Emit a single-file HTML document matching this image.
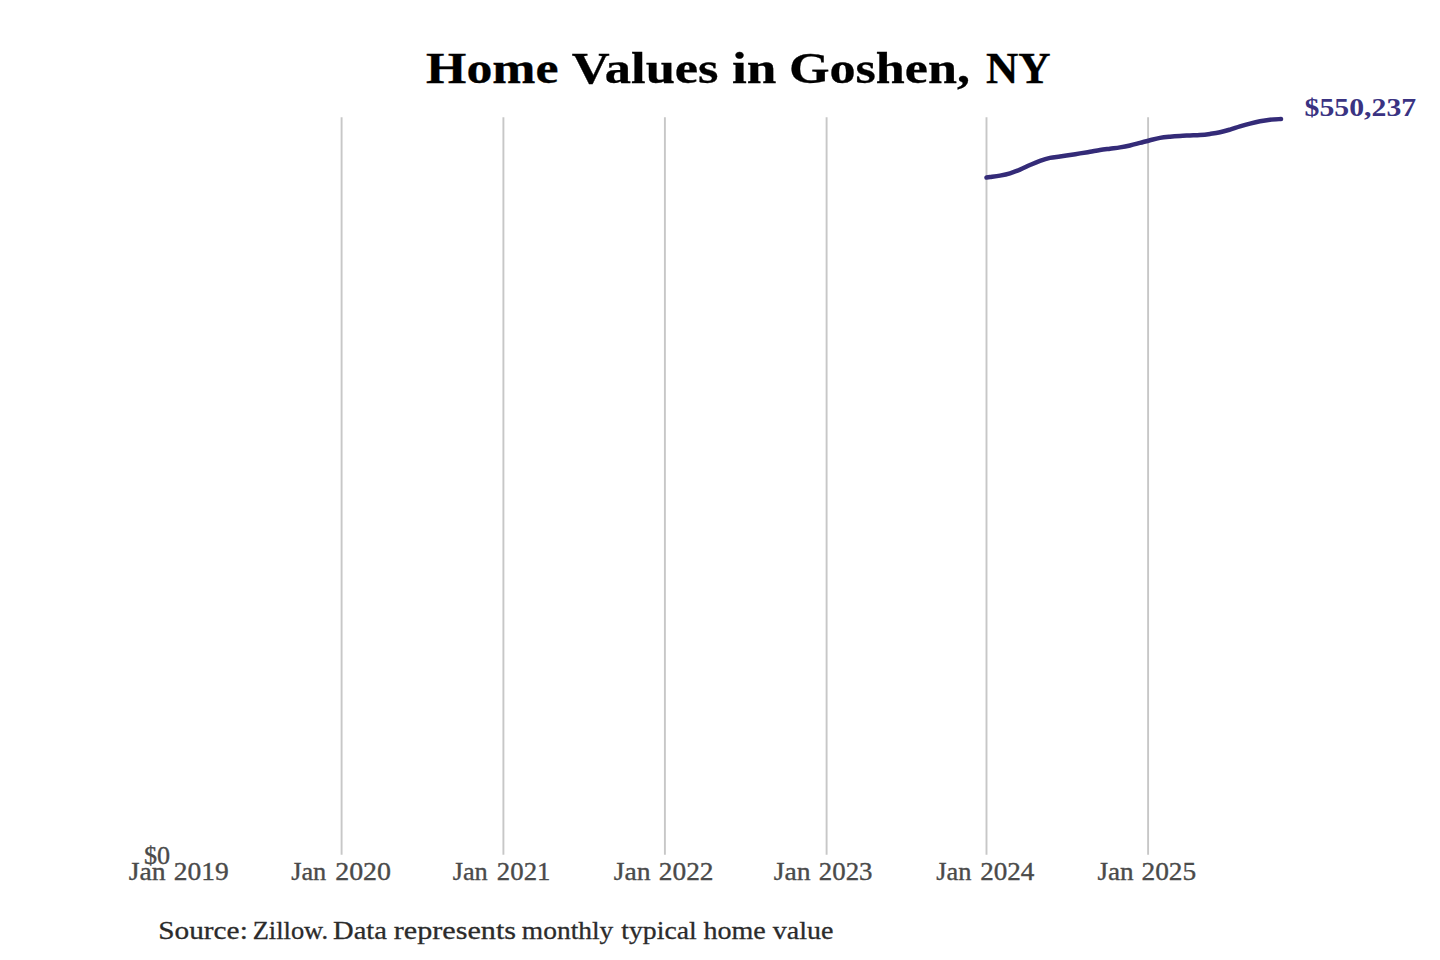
<!DOCTYPE html>
<html>
<head>
<meta charset="utf-8">
<style>
html,body{margin:0;padding:0;background:#fff;width:1440px;height:960px;overflow:hidden;}
svg{display:block;}
text{font-family:"Liberation Serif",serif;}
</style>
</head>
<body>
<svg width="1440" height="960" viewBox="0 0 1440 960">
<rect x="0" y="0" width="1440" height="960" fill="#fff"/>
<g stroke="#c7c7c7" stroke-width="1.9"><line x1="341.6" y1="117.3" x2="341.6" y2="854.8"/><line x1="503.4" y1="117.3" x2="503.4" y2="854.8"/><line x1="664.9" y1="117.3" x2="664.9" y2="854.8"/><line x1="826.6" y1="117.3" x2="826.6" y2="854.8"/><line x1="986.5" y1="117.3" x2="986.5" y2="854.8"/><line x1="1148.1" y1="117.3" x2="1148.1" y2="854.8"/></g>
<path fill="none" stroke="#342b78" stroke-width="4.5" stroke-linecap="round" stroke-linejoin="round" d="M986.50 177.60 C987.08 177.52 987.75 177.43 990.00 177.10 C992.25 176.77 996.67 176.23 1000.00 175.60 C1003.33 174.97 1006.67 174.30 1010.00 173.30 C1013.33 172.30 1016.67 170.98 1020.00 169.60 C1023.33 168.22 1026.67 166.46 1030.00 165.00 C1033.33 163.54 1036.67 162.03 1040.00 160.85 C1043.33 159.67 1046.67 158.62 1050.00 157.90 C1053.33 157.18 1056.67 156.98 1060.00 156.50 C1063.33 156.02 1066.67 155.52 1070.00 155.00 C1073.33 154.48 1076.67 153.93 1080.00 153.40 C1083.33 152.87 1086.67 152.36 1090.00 151.80 C1093.33 151.24 1096.67 150.57 1100.00 150.05 C1103.33 149.53 1106.67 149.14 1110.00 148.70 C1113.33 148.26 1116.67 147.93 1120.00 147.40 C1123.33 146.87 1126.67 146.25 1130.00 145.50 C1133.33 144.75 1136.67 143.78 1140.00 142.90 C1143.33 142.02 1146.67 141.04 1150.00 140.20 C1153.33 139.36 1156.67 138.44 1160.00 137.85 C1163.33 137.26 1166.67 136.97 1170.00 136.65 C1173.33 136.33 1176.67 136.10 1180.00 135.90 C1183.33 135.70 1186.67 135.60 1190.00 135.45 C1193.33 135.30 1196.67 135.26 1200.00 135.00 C1203.33 134.74 1206.67 134.35 1210.00 133.90 C1213.33 133.45 1216.67 133.02 1220.00 132.30 C1223.33 131.58 1226.67 130.58 1230.00 129.60 C1233.33 128.62 1236.67 127.40 1240.00 126.40 C1243.33 125.40 1246.67 124.45 1250.00 123.60 C1253.33 122.75 1256.67 121.93 1260.00 121.30 C1263.33 120.67 1266.50 120.18 1270.00 119.80 C1273.50 119.42 1279.17 119.13 1281.00 119.00"/>
<text id="t0" x="426.08" y="83.10" font-size="44.3" font-weight="bold" fill="#000" stroke="#000" stroke-width="0.3" textLength="132.43" lengthAdjust="spacingAndGlyphs">Home</text>
<text id="t1" x="571.79" y="83.10" font-size="44.3" font-weight="bold" fill="#000" stroke="#000" stroke-width="0.3" textLength="146.74" lengthAdjust="spacingAndGlyphs">Values</text>
<text id="t2" x="731.96" y="83.10" font-size="44.3" font-weight="bold" fill="#000" stroke="#000" stroke-width="0.3" textLength="44.38" lengthAdjust="spacingAndGlyphs">in</text>
<text id="t3" x="788.97" y="83.10" font-size="44.3" font-weight="bold" fill="#000" stroke="#000" stroke-width="0.3" textLength="181.07" lengthAdjust="spacingAndGlyphs">Goshen,</text>
<text id="t4" x="985.98" y="83.10" font-size="44.3" font-weight="bold" fill="#000" stroke="#000" stroke-width="0.3" textLength="64.63" lengthAdjust="spacingAndGlyphs">NY</text>
<text id="t5" x="1304.58" y="116.30" font-size="25.5" font-weight="bold" fill="#3a3382" textLength="111.63" lengthAdjust="spacingAndGlyphs">$550,237</text>
<text id="t6" x="143.95" y="863.75" font-size="25.8" font-weight="normal" fill="#4a4a4a" stroke="#4a4a4a" stroke-width="0.35" textLength="26.13" lengthAdjust="spacingAndGlyphs">$0</text>
<text id="t7" x="128.76" y="879.70" font-size="25.8" font-weight="normal" fill="#4a4a4a" stroke="#4a4a4a" stroke-width="0.35" textLength="36.87" lengthAdjust="spacingAndGlyphs">Jan</text>
<text id="t8" x="173.77" y="879.70" font-size="25.8" font-weight="normal" fill="#4a4a4a" stroke="#4a4a4a" stroke-width="0.35" textLength="55.01" lengthAdjust="spacingAndGlyphs">2019</text>
<text id="t9" x="291.17" y="879.70" font-size="25.8" font-weight="normal" fill="#4a4a4a" stroke="#4a4a4a" stroke-width="0.35" textLength="35.11" lengthAdjust="spacingAndGlyphs">Jan</text>
<text id="t10" x="335.16" y="879.70" font-size="25.8" font-weight="normal" fill="#4a4a4a" stroke="#4a4a4a" stroke-width="0.35" textLength="55.90" lengthAdjust="spacingAndGlyphs">2020</text>
<text id="t11" x="452.67" y="879.70" font-size="25.8" font-weight="normal" fill="#4a4a4a" stroke="#4a4a4a" stroke-width="0.35" textLength="35.05" lengthAdjust="spacingAndGlyphs">Jan</text>
<text id="t12" x="496.87" y="879.70" font-size="25.8" font-weight="normal" fill="#4a4a4a" stroke="#4a4a4a" stroke-width="0.35" textLength="53.59" lengthAdjust="spacingAndGlyphs">2021</text>
<text id="t13" x="613.76" y="879.70" font-size="25.8" font-weight="normal" fill="#4a4a4a" stroke="#4a4a4a" stroke-width="0.35" textLength="36.87" lengthAdjust="spacingAndGlyphs">Jan</text>
<text id="t14" x="658.78" y="879.70" font-size="25.8" font-weight="normal" fill="#4a4a4a" stroke="#4a4a4a" stroke-width="0.35" textLength="54.79" lengthAdjust="spacingAndGlyphs">2022</text>
<text id="t15" x="773.76" y="879.70" font-size="25.8" font-weight="normal" fill="#4a4a4a" stroke="#4a4a4a" stroke-width="0.35" textLength="36.87" lengthAdjust="spacingAndGlyphs">Jan</text>
<text id="t16" x="818.78" y="879.70" font-size="25.8" font-weight="normal" fill="#4a4a4a" stroke="#4a4a4a" stroke-width="0.35" textLength="53.73" lengthAdjust="spacingAndGlyphs">2023</text>
<text id="t17" x="936.18" y="879.70" font-size="25.8" font-weight="normal" fill="#4a4a4a" stroke="#4a4a4a" stroke-width="0.35" textLength="35.16" lengthAdjust="spacingAndGlyphs">Jan</text>
<text id="t18" x="980.18" y="879.70" font-size="25.8" font-weight="normal" fill="#4a4a4a" stroke="#4a4a4a" stroke-width="0.35" textLength="54.23" lengthAdjust="spacingAndGlyphs">2024</text>
<text id="t19" x="1097.48" y="879.70" font-size="25.8" font-weight="normal" fill="#4a4a4a" stroke="#4a4a4a" stroke-width="0.35" textLength="36.22" lengthAdjust="spacingAndGlyphs">Jan</text>
<text id="t20" x="1141.48" y="879.70" font-size="25.8" font-weight="normal" fill="#4a4a4a" stroke="#4a4a4a" stroke-width="0.35" textLength="54.75" lengthAdjust="spacingAndGlyphs">2025</text>
<text id="t21" x="158.25" y="938.80" font-size="25.8" font-weight="normal" fill="#2b2b2b" stroke="#2b2b2b" stroke-width="0.3" textLength="89.53" lengthAdjust="spacingAndGlyphs">Source:</text>
<text id="t22" x="252.68" y="938.80" font-size="25.8" font-weight="normal" fill="#2b2b2b" stroke="#2b2b2b" stroke-width="0.3" textLength="75.45" lengthAdjust="spacingAndGlyphs">Zillow.</text>
<text id="t23" x="333.07" y="938.80" font-size="25.8" font-weight="normal" fill="#2b2b2b" stroke="#2b2b2b" stroke-width="0.3" textLength="53.83" lengthAdjust="spacingAndGlyphs">Data</text>
<text id="t24" x="393.79" y="938.80" font-size="25.8" font-weight="normal" fill="#2b2b2b" stroke="#2b2b2b" stroke-width="0.3" textLength="122.23" lengthAdjust="spacingAndGlyphs">represents</text>
<text id="t25" x="521.88" y="938.80" font-size="25.8" font-weight="normal" fill="#2b2b2b" stroke="#2b2b2b" stroke-width="0.3" textLength="91.43" lengthAdjust="spacingAndGlyphs">monthly</text>
<text id="t26" x="621.29" y="938.80" font-size="25.8" font-weight="normal" fill="#2b2b2b" stroke="#2b2b2b" stroke-width="0.3" textLength="75.41" lengthAdjust="spacingAndGlyphs">typical</text>
<text id="t27" x="703.56" y="938.80" font-size="25.8" font-weight="normal" fill="#2b2b2b" stroke="#2b2b2b" stroke-width="0.3" textLength="62.26" lengthAdjust="spacingAndGlyphs">home</text>
<text id="t28" x="772.79" y="938.80" font-size="25.8" font-weight="normal" fill="#2b2b2b" stroke="#2b2b2b" stroke-width="0.3" textLength="60.62" lengthAdjust="spacingAndGlyphs">value</text>
</svg>
</body>
</html>
